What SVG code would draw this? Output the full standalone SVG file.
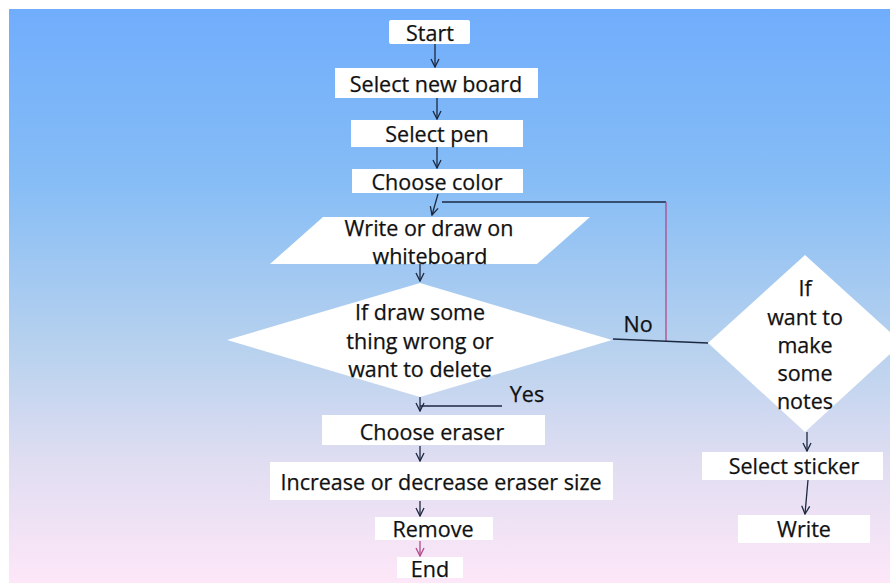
<svg xmlns="http://www.w3.org/2000/svg" width="890" height="587" viewBox="0 0 890 587">
<defs>
<linearGradient id="bg" x1="0" y1="0" x2="0" y2="1">
<stop offset="0" stop-color="#70adfc"/>
<stop offset="0.3" stop-color="#86bdf6"/>
<stop offset="0.6" stop-color="#b9d2ee"/>
<stop offset="0.8" stop-color="#e2def2"/>
<stop offset="1" stop-color="#fde7f8"/>
</linearGradient>
<marker id="ah" viewBox="0 0 10 10" refX="9" refY="5" markerWidth="10" markerHeight="10" markerUnits="userSpaceOnUse" orient="auto">
<path d="M1,1 L9,5 L1,9" fill="none" stroke="#1c2840" stroke-width="1.3"/>
</marker>
<marker id="ahp" viewBox="0 0 10 10" refX="9" refY="5" markerWidth="10" markerHeight="10" markerUnits="userSpaceOnUse" orient="auto">
<path d="M1,1 L9,5 L1,9" fill="none" stroke="#b04a88" stroke-width="1.3"/>
</marker>
</defs>
<style>
.box{fill:#ffffff;stroke:none}
.t{font-family:"Open Sans","DejaVu Sans",sans-serif;font-size:21.5px;fill:#111111;text-anchor:middle;dominant-baseline:central;stroke:#111111;stroke-width:0.25}
.c{fill:none;stroke:#1c2840;stroke-width:1.3}
.p{fill:none;stroke:#b04a88;stroke-width:1.3}
</style>
<rect x="0" y="0" width="890" height="587" fill="#ffffff"/>
<rect x="9" y="9" width="881" height="574" fill="url(#bg)"/>

<g id="start"><rect class="box" x="389" y="20" width="81" height="24" rx="2"/><text class="t" x="430" y="32">Start</text></g>
<g id="newboard"><rect class="box" x="335" y="68" width="203" height="30"/><text class="t" x="436" y="83">Select new board</text></g>
<g id="pen"><rect class="box" x="351" y="120" width="172" height="27"/><text class="t" x="437" y="133">Select pen</text></g>
<g id="color"><rect class="box" x="352" y="169" width="171" height="24"/><text class="t" x="437" y="181">Choose color</text></g>
<g id="write"><polygon class="box" points="323,217 590,217 537,264 270,264"/><text class="t" x="429" y="227">Write or draw on</text><text class="t" x="430" y="255">whiteboard</text></g>
<g id="decision1"><polygon class="box" points="420,283 612,340 420,397 227,340"/><text class="t" x="420" y="311">If draw some</text><text class="t" x="420" y="340">thing wrong or</text><text class="t" x="420" y="368">want to delete</text></g>
<g id="eraser"><rect class="box" x="322" y="415" width="223" height="30"/><text class="t" x="432" y="431">Choose eraser</text></g>
<g id="size"><rect class="box" x="270" y="462" width="343" height="38"/><text class="t" x="441" y="481">Increase or decrease eraser size</text></g>
<g id="remove"><rect class="box" x="375" y="517" width="118" height="23"/><text class="t" x="433" y="528">Remove</text></g>
<g id="end"><rect class="box" x="397" y="557" width="66" height="21"/><text class="t" x="430" y="568">End</text></g>
<g id="decision2"><polygon class="box" points="805,255 902,343 805,432 708,343"/><text class="t" x="805" y="287">If</text><text class="t" x="805" y="316">want to</text><text class="t" x="805" y="344">make</text><text class="t" x="805" y="372">some</text><text class="t" x="805" y="400">notes</text></g>
<g id="sticker"><rect class="box" x="702" y="452" width="181" height="28"/><text class="t" x="794" y="465">Select sticker</text></g>
<g id="writenote"><rect class="box" x="738" y="515" width="132" height="28"/><text class="t" x="804" y="528">Write</text></g>

<g id="connectors">
<line class="c" x1="435" y1="44" x2="435" y2="67" marker-end="url(#ah)"/>
<line class="c" x1="437" y1="98" x2="437" y2="119" marker-end="url(#ah)"/>
<line class="c" x1="437" y1="147" x2="437" y2="168" marker-end="url(#ah)"/>
<line class="c" x1="438" y1="194" x2="432" y2="215" marker-end="url(#ah)"/>
<polyline class="c" points="442,202 666,202"/>
<line class="p" x1="666" y1="202" x2="666" y2="342"/>
<line class="c" x1="613" y1="339" x2="708" y2="343"/>
<line class="c" x1="420" y1="264" x2="420" y2="281" marker-end="url(#ah)"/>
<line class="c" x1="420" y1="397" x2="420" y2="411" marker-end="url(#ah)"/>
<line class="c" x1="502" y1="406" x2="420" y2="406"/>
<line class="c" x1="420" y1="446" x2="420" y2="461" marker-end="url(#ah)"/>
<line class="c" x1="420" y1="501" x2="420" y2="516" marker-end="url(#ah)"/>
<line class="p" x1="420" y1="541" x2="420" y2="556" marker-end="url(#ahp)"/>
<line class="c" x1="807" y1="432" x2="807" y2="451" marker-end="url(#ah)"/>
<line class="c" x1="808" y1="480" x2="805" y2="514" marker-end="url(#ah)"/>
<text class="t" x="638" y="323">No</text>
<text class="t" x="527" y="393">Yes</text>
</g>
</svg>
